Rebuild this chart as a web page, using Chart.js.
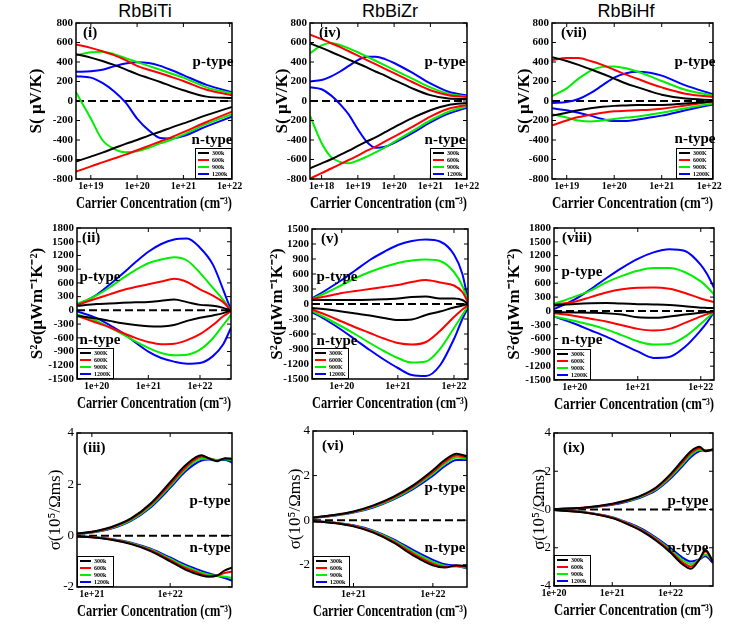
<!DOCTYPE html>
<html>
<head>
<meta charset="utf-8">
<script src="https://cdn.jsdelivr.net/npm/chart.js@4.4.0/dist/chart.umd.min.js"></script>
<style>
  body { margin: 0; background: #fff; width: 756px; height: 629px; position: relative; overflow: hidden; }
  .panel { position: absolute; }
  .ttl { position: absolute; top: 1px; font-family: Arial, "Liberation Sans", sans-serif; font-size: 18px; transform: translateX(-50%); }
</style>
</head>
<body>
<div class="ttl" style="left:145px">RbBiTi</div>
<div class="ttl" style="left:390px">RbBiZr</div>
<div class="ttl" style="left:626px">RbBiHf</div>
<script>
// legend labels and colours
const tempsK = ['300K', '600K', '900K', '1200K'];
const tempsk = ['300k', '600k', '900k', '1200k'];
const lineColors = ['#000000', '#ff0000', '#00ee00', '#0000ff'];

// y tick labels
const sTicks = [-800, -600, -400, -200, 0, 200, 400, 600, 800];
const pfTicks18 = [-1500, -1200, -900, -600, -300, 0, 300, 600, 900, 1200, 1500, 1800];
const pfTicks15 = [-1500, -1200, -900, -600, -300, 0, 300, 600, 900, 1200, 1500];
const cTicks3 = [-2, 0, 2, 4];
const cTicks4 = [-4, -2, 0, 2, 4];

// x tick labels (decade exponents)
const dec19to22 = [19, 20, 21, 22];
const dec18to22 = [18, 19, 20, 21, 22];
const dec20to22 = [20, 21, 22];
const dec21to22 = [21, 22];

// ---- (i) RbBiTi Seebeck, x = log10(carrier conc.)
const nTiS = [18.68, 19, 19.25, 19.5, 19.75, 20, 20.25, 20.5, 20.75, 21, 21.5, 22.05];
const TiS_p = [
  [480, 445, 410, 370, 325, 275, 235, 195, 150, 110, 45, 30],
  [580, 545, 510, 470, 420, 360, 320, 285, 245, 205, 115, 60],
  [470, 500, 505, 480, 440, 400, 360, 320, 280, 240, 140, 80],
  [300, 305, 320, 355, 385, 398, 390, 360, 315, 265, 165, 90]
];
const TiS_n = [
  [-620, -570, -530, -485, -440, -400, -355, -315, -270, -230, -145, -60],
  [-725, -670, -630, -590, -550, -505, -460, -415, -370, -320, -215, -110],
  [90, -180, -400, -490, -525, -515, -480, -435, -395, -345, -235, -135],
  [255, 240, 185, 100, -15, -180, -300, -380, -385, -360, -260, -160]
];

// ---- (iv) RbBiZr Seebeck
const nZrS = [17.68, 18, 18.25, 18.5, 18.75, 19, 19.25, 19.5, 19.75, 20, 20.5, 21, 21.5, 22.01];
const ZrS_p = [
  [590, 545, 505, 465, 425, 385, 345, 300, 260, 215, 130, 60, 25, 20],
  [680, 635, 595, 555, 510, 465, 420, 375, 330, 285, 195, 110, 60, 40],
  [490, 570, 595, 575, 540, 500, 455, 410, 365, 320, 230, 140, 75, 45],
  [200, 215, 250, 300, 360, 420, 455, 455, 430, 390, 290, 180, 95, 55]
];
const ZrS_n = [
  [-690, -640, -600, -555, -510, -460, -415, -370, -320, -270, -175, -95, -40, -20],
  [-795, -740, -695, -650, -605, -560, -510, -465, -415, -365, -265, -160, -80, -40],
  [-150, -430, -570, -625, -638, -610, -570, -525, -475, -420, -310, -200, -110, -55],
  [140, 120, 60, -30, -140, -290, -420, -480, -470, -430, -330, -220, -130, -70]
];

// ---- (vii) RbBiHf Seebeck
const nHfS = [18.69, 19, 19.25, 19.5, 19.75, 20, 20.25, 20.5, 20.75, 21, 21.5, 22.08];
const HfS_p = [
  [450, 410, 370, 325, 280, 230, 180, 140, 100, 65, 25, 10],
  [420, 442, 440, 410, 370, 320, 270, 225, 180, 140, 75, 40],
  [50, 130, 230, 310, 350, 355, 335, 300, 255, 205, 115, 55],
  [-20, -10, 20, 80, 160, 240, 285, 300, 290, 260, 160, 70]
];
const HfS_n = [
  [-150, -120, -95, -75, -60, -50, -45, -40, -40, -40, -25, -5],
  [-250, -200, -165, -140, -120, -105, -100, -95, -90, -80, -45, -5],
  [-135, -170, -200, -210, -200, -185, -170, -160, -140, -120, -75, -25],
  [-75, -95, -120, -150, -185, -205, -205, -190, -170, -150, -95, -35]
];

// ---- (ii) RbBiTi power factor
const nTiPF = [19.62, 20, 20.25, 20.5, 20.75, 21, 21.25, 21.5, 21.75, 22, 22.25, 22.45, 22.6];
const TiPF_p = [
  [100, 140, 150, 165, 175, 185, 210, 235, 180, 120, 100, 55, 0],
  [120, 260, 350, 440, 510, 570, 630, 690, 620, 460, 320, 180, 0],
  [140, 330, 500, 700, 880, 1030, 1110, 1160, 1090, 820, 490, 230, 0],
  [110, 340, 560, 800, 1050, 1280, 1450, 1550, 1570, 1370, 1000, 450, 0]
];
const TiPF_n = [
  [-120, -180, -230, -280, -320, -345, -350, -320, -230, -160, -110, -60, 0],
  [-120, -270, -370, -490, -600, -690, -740, -730, -650, -520, -320, -130, -20],
  [-90, -230, -370, -520, -680, -820, -930, -980, -970, -860, -610, -320, -100],
  [-20, -170, -320, -490, -700, -900, -1040, -1120, -1165, -1150, -1000, -740, -380]
];

// ---- (v) RbBiZr power factor
const nZrPF = [19.47, 19.75, 20, 20.25, 20.5, 20.75, 21, 21.25, 21.5, 21.75, 22, 22.15, 22.25];
const ZrPF_p = [
  [80, 80, 80, 80, 85, 95, 110, 140, 150, 110, 110, 80, 0],
  [100, 160, 220, 260, 300, 340, 380, 440, 480, 430, 370, 240, 30],
  [100, 240, 380, 520, 640, 740, 820, 870, 890, 860, 640, 360, 60],
  [110, 300, 480, 680, 880, 1040, 1180, 1260, 1290, 1250, 990, 600, 80]
];
const ZrPF_n = [
  [-80, -110, -150, -190, -230, -280, -320, -310, -220, -150, -70, -30, 0],
  [-110, -230, -350, -470, -580, -690, -780, -810, -760, -540, -260, -110, -20],
  [-140, -300, -450, -610, -780, -940, -1080, -1170, -1150, -900, -480, -220, -40],
  [-160, -340, -520, -720, -920, -1110, -1280, -1420, -1440, -1230, -700, -300, -80]
];

// ---- (viii) RbBiHf power factor
const nHfPF = [19.67, 20, 20.25, 20.5, 20.75, 21, 21.25, 21.5, 21.75, 22, 22.1, 22.21];
const HfPF_p = [
  [120, 150, 165, 170, 160, 145, 140, 130, 100, 70, 65, 60],
  [140, 200, 300, 400, 470, 505, 510, 480, 390, 270, 230, 190],
  [150, 310, 440, 620, 760, 870, 930, 930, 840, 640, 520, 360],
  [40, 250, 470, 710, 935, 1130, 1270, 1340, 1300, 1000, 800, 500]
];
const HfPF_n = [
  [-30, -35, -40, -50, -80, -140, -150, -120, -80, -40, -25, -10],
  [-50, -110, -170, -230, -310, -390, -425, -390, -260, -120, -70, -15],
  [-120, -220, -300, -400, -530, -660, -730, -720, -560, -280, -160, -20],
  [-120, -280, -420, -560, -720, -880, -1020, -1000, -780, -420, -250, -20]
];

// ---- (iii) RbBiTi conductivity (10^5 /Ohm m s)
const nTiC = [20.81, 21, 21.25, 21.5, 21.75, 22, 22.2, 22.4, 22.5, 22.6, 22.7, 22.79];
const TiC_p = [
  [0.08, 0.15, 0.34, 0.67, 1.25, 2.08, 2.75, 3.13, 3.0, 2.9, 3.02, 3.0],
  [0.07, 0.14, 0.32, 0.64, 1.2, 2.0, 2.67, 3.07, 3.02, 2.92, 3.0, 2.98],
  [0.06, 0.13, 0.3, 0.61, 1.15, 1.93, 2.6, 3.0, 3.0, 2.95, 2.98, 2.95],
  [0.05, 0.12, 0.28, 0.58, 1.1, 1.86, 2.52, 2.93, 2.97, 2.95, 2.95, 2.85]
];
const TiC_n = [
  [-0.03, -0.06, -0.16, -0.33, -0.6, -1.0, -1.33, -1.55, -1.6, -1.55, -1.35, -1.25],
  [-0.03, -0.06, -0.15, -0.31, -0.57, -0.95, -1.27, -1.5, -1.57, -1.55, -1.45, -1.4],
  [-0.03, -0.05, -0.14, -0.29, -0.54, -0.9, -1.2, -1.44, -1.52, -1.57, -1.6, -1.65],
  [-0.02, -0.05, -0.13, -0.27, -0.51, -0.85, -1.14, -1.37, -1.47, -1.56, -1.65, -1.75]
];

// ---- (vi) RbBiZr conductivity
const nZrC = [20.49, 20.75, 21, 21.25, 21.5, 21.75, 22, 22.15, 22.3, 22.43];
const ZrC_p = [
  [0.12, 0.23, 0.39, 0.66, 1.04, 1.56, 2.24, 2.7, 2.98, 2.86],
  [0.12, 0.22, 0.37, 0.63, 1.0, 1.5, 2.16, 2.61, 2.9, 2.8],
  [0.11, 0.21, 0.36, 0.6, 0.96, 1.45, 2.08, 2.52, 2.81, 2.75],
  [0.1, 0.2, 0.34, 0.57, 0.92, 1.39, 1.99, 2.42, 2.7, 2.7]
];
const ZrC_n = [
  [-0.05, -0.13, -0.28, -0.56, -1.0, -1.58, -2.03, -2.13, -2.02, -2.07],
  [-0.05, -0.12, -0.26, -0.53, -0.95, -1.5, -1.95, -2.1, -2.06, -2.1],
  [-0.05, -0.11, -0.25, -0.5, -0.9, -1.42, -1.87, -2.05, -2.08, -2.13],
  [-0.04, -0.11, -0.23, -0.47, -0.85, -1.34, -1.78, -1.98, -2.06, -2.17]
];

// ---- (ix) RbBiHf conductivity
const nHfC = [20, 20.5, 21, 21.25, 21.5, 21.75, 22, 22.2, 22.35, 22.5, 22.6, 22.73];
const HfC_p = [
  [0.03, 0.09, 0.3, 0.48, 0.74, 1.15, 1.85, 2.55, 3.05, 3.28, 3.05, 3.15],
  [0.03, 0.09, 0.28, 0.46, 0.71, 1.1, 1.78, 2.45, 2.95, 3.2, 3.08, 3.12],
  [0.03, 0.08, 0.27, 0.44, 0.68, 1.05, 1.7, 2.35, 2.85, 3.12, 3.1, 3.1],
  [0.02, 0.08, 0.25, 0.41, 0.64, 1.0, 1.62, 2.25, 2.75, 3.05, 3.1, 3.1]
];
const HfC_n = [
  [-0.03, -0.15, -0.45, -0.75, -1.12, -1.62, -2.25, -2.85, -3.1, -2.6, -2.1, -2.75],
  [-0.03, -0.14, -0.43, -0.72, -1.08, -1.56, -2.18, -2.75, -2.98, -2.6, -2.2, -2.72],
  [-0.03, -0.14, -0.42, -0.7, -1.05, -1.52, -2.1, -2.62, -2.85, -2.6, -2.35, -2.7],
  [-0.02, -0.13, -0.4, -0.67, -1.0, -1.47, -2.02, -2.5, -2.72, -2.6, -2.45, -2.8]
];

const serif = '"Liberation Serif", "Times New Roman", serif';

// y axis title per row
const rowTitles = [
  { text: 'S( \u03bcV/K)', weight: 'bold', size: 17 },
  { text: 'S\u00b2\u03c3(\u03bcWm\u207b\u00b9K\u207b\u00b2)', weight: 'bold', size: 17 },
  { text: '\u03c3(10\u2075/\u03a9ms)', weight: 'normal', size: 17 }
];

const panels = [
  { box: [76, 23, 232, 179], row: 0, xs: nTiS, p: TiS_p, n: TiS_n, xr: [18.68, 22.05], xt: dec19to22, yr: [-800, 800], yt: sTicks,
    yOff: 39, roman: '(i)', rAt: [7, 10], pAt: [137, 39], nAt: [136, 117], leg: 'right', labels: tempsk },
  { box: [310, 23, 467, 179], row: 0, xs: nZrS, p: ZrS_p, n: ZrS_n, xr: [17.68, 22.01], xt: dec18to22, yr: [-800, 800], yt: sTicks,
    yOff: 27, roman: '(iv)', rAt: [9, 10], pAt: [135, 39], nAt: [135, 117], leg: 'right', labels: tempsk },
  { box: [552, 23, 713, 179], row: 0, xs: nHfS, p: HfS_p, n: HfS_n, xr: [18.69, 22.08], xt: dec19to22, yr: [-800, 800], yt: sTicks,
    yOff: 27, roman: '(vii)', rAt: [9, 10], pAt: [143, 39], nAt: [143, 116], leg: 'right', labels: tempsK },
  { box: [77, 228, 231, 379], row: 1, xs: nTiPF, p: TiPF_p, n: TiPF_n, xr: [19.62, 22.6], xt: dec20to22, yr: [-1500, 1800], yt: pfTicks18,
    yOff: 39, roman: '(ii)', rAt: [5, 10], pAt: [23, 49], nAt: [23, 112], leg: 'left', labels: tempsK },
  { box: [312, 229, 468, 379], row: 1, xs: nZrPF, p: ZrPF_p, n: ZrPF_n, xr: [19.47, 22.25], xt: dec20to22, yr: [-1500, 1500], yt: pfTicks15,
    yOff: 34, roman: '(v)', rAt: [9, 10], pAt: [25, 48], nAt: [25, 112], leg: 'left', labels: tempsK },
  { box: [554, 228, 714, 380], row: 1, xs: nHfPF, p: HfPF_p, n: HfPF_n, xr: [19.67, 22.21], xt: dec20to22, yr: [-1500, 1800], yt: pfTicks18,
    yOff: 39, roman: '(viii)', rAt: [8, 10], pAt: [28, 44], nAt: [28, 112], leg: 'left', labels: tempsK },
  { box: [77, 433, 232, 587], row: 2, xs: nTiC, p: TiC_p, n: TiC_n, xr: [20.81, 22.79], xt: dec21to22, yr: [-2, 4], yt: cTicks3,
    yOff: 21, roman: '(iii)', rAt: [6, 15], pAt: [133, 68], nAt: [133, 115], leg: 'left', labels: tempsk },
  { box: [313, 431, 467, 587], row: 2, xs: nZrC, p: ZrC_p, n: ZrC_n, xr: [20.49, 22.43], xt: dec21to22, yr: [-3, 4], yt: cTicks3,
    yOff: 17, roman: '(vi)', rAt: [9, 15], pAt: [132, 57], nAt: [132, 117], leg: 'left', labels: tempsk },
  { box: [554, 433, 713, 586], row: 2, xs: nHfC, p: HfC_p, n: HfC_n, xr: [20.0, 22.73], xt: dec20to22, yr: [-4, 4], yt: cTicks4,
    yOff: 14, roman: '(ix)', rAt: [9, 15], pAt: [134, 68], nAt: [134, 115], leg: 'left', labels: tempsk }
];

const AXW = 76, PADT = 22, PADR = 30, AXH = 46;

const decorPlugin = {
  id: 'decor',
  beforeDatasetsDraw(chart, args, opts) {
    const { ctx, chartArea: a, scales: { y } } = chart;
    const y0 = y.getPixelForValue(0);
    ctx.save();
    ctx.strokeStyle = '#000';
    ctx.lineWidth = 2;
    ctx.setLineDash([8, 4]);
    ctx.beginPath();
    ctx.moveTo(a.left, y0);
    ctx.lineTo(a.right, y0);
    ctx.stroke();
    ctx.restore();
  },
  afterDatasetsDraw(chart, args, opts) {
    const { ctx, chartArea: a, scales: { x, y } } = chart;
    ctx.save();
    // frame
    ctx.strokeStyle = '#000';
    ctx.lineWidth = 1.5;
    ctx.strokeRect(a.left, a.top, a.width, a.height);
    // inward ticks
    ctx.lineWidth = 1;
    ctx.beginPath();
    x.ticks.forEach(t => {
      const px = x.getPixelForValue(t.value);
      ctx.moveTo(px, a.bottom); ctx.lineTo(px, a.bottom - 4);
      ctx.moveTo(px, a.top); ctx.lineTo(px, a.top + 4);
    });
    y.ticks.forEach(t => {
      const py = y.getPixelForValue(t.value);
      ctx.moveTo(a.left, py); ctx.lineTo(a.left + 4, py);
      ctx.moveTo(a.right, py); ctx.lineTo(a.right - 4, py);
    });
    ctx.stroke();

    // panel number and carrier type labels
    ctx.fillStyle = '#000';
    ctx.textBaseline = 'middle';
    ctx.font = 'bold 15px ' + serif;
    ctx.textAlign = 'left';
    ctx.fillText(opts.roman, a.left + opts.rAt[0], a.top + opts.rAt[1]);
    ctx.textAlign = 'center';
    ctx.font = 'bold 15px ' + serif;
    ctx.fillText('p-type', a.left + opts.pAt[0], a.top + opts.pAt[1]);
    ctx.fillText('n-type', a.left + opts.nAt[0], a.top + opts.nAt[1]);

    // legend box
    const w = 37, h = 31;
    const lx = opts.leg === 'right' ? a.right - w : a.left;
    const ly = a.bottom - h;
    ctx.fillStyle = '#fff';
    ctx.fillRect(lx, ly, w, h);
    ctx.strokeStyle = '#000';
    ctx.lineWidth = 1;
    ctx.strokeRect(lx + 0.5, ly + 0.5, w - 1, h - 1);
    ctx.font = 'bold 6px ' + serif;
    ctx.textAlign = 'left';
    chart.data.datasets.slice(0, 4).forEach((ds, i) => {
      const yy = ly + 5 + i * 7;
      ctx.strokeStyle = ds.borderColor;
      ctx.lineWidth = 2;
      ctx.beginPath();
      ctx.moveTo(lx + 3, yy);
      ctx.lineTo(lx + 14, yy);
      ctx.stroke();
      ctx.fillStyle = '#000';
      ctx.fillText(opts.labels[i], lx + 17, yy);
    });
    ctx.restore();
  }
};

panels.forEach(pn => {
  const [L, T, R, B] = pn.box;
  const div = document.createElement('div');
  div.className = 'panel';
  const cw = (R - L) + AXW + PADR, chh = (B - T) + PADT + AXH;
  div.style.left = (L - AXW) + 'px';
  div.style.top = (T - PADT) + 'px';
  const cv = document.createElement('canvas');
  cv.width = cw; cv.height = chh;
  cv.style.width = cw + 'px'; cv.style.height = chh + 'px';
  div.appendChild(cv);
  document.body.appendChild(div);

  // first four datasets are p-type (used by the legend), then n-type
  const datasets = [];
  [pn.p, pn.n].forEach(group => {
    group.forEach((vals, i) => {
      datasets.push({
        data: pn.xs.map((e, k) => ({ x: Math.pow(10, e), y: vals[k] })),
        borderColor: lineColors[i],
        borderWidth: 2,
        pointRadius: 0,
        fill: false,
        cubicInterpolationMode: 'monotone'
      });
    });
  });

  const rt = rowTitles[pn.row];
  const tickWeight = pn.row === 2 ? 'normal' : 'bold';
  const tickSize = pn.row === 2 ? 13 : 11;

  new Chart(cv.getContext('2d'), {
    type: 'line',
    data: { datasets: datasets },
    plugins: [decorPlugin],
    options: {
      responsive: false,
      animation: false,
      devicePixelRatio: 1,
      layout: { padding: { top: PADT, right: PADR, left: 0, bottom: 0 } },
      plugins: {
        legend: { display: false },
        tooltip: { enabled: false },
        decor: { roman: pn.roman, rAt: pn.rAt, pAt: pn.pAt, nAt: pn.nAt, leg: pn.leg, labels: pn.labels }
      },
      scales: {
        x: {
          type: 'logarithmic',
          min: Math.pow(10, pn.xr[0]),
          max: Math.pow(10, pn.xr[1]),
          afterBuildTicks: s => { s.ticks = pn.xt.map(e => ({ value: Math.pow(10, e) })); },
          afterFit: s => { s.height = AXH; },
          grid: { display: false, drawTicks: false },
          border: { display: false },
          ticks: {
            autoSkip: false, maxRotation: 0, padding: 1, color: '#000',
            font: { family: serif, size: 10, weight: 'bold' },
            callback: v => '1e+' + Math.round(Math.log10(v))
          },
          title: {
            display: true, text: 'Carrier Concentration (cm\u207b\u00b3)', color: '#000',
            font: { family: serif, size: 16, weight: 'bold', lineHeight: 1 },
            padding: { top: 0, bottom: 13 }
          }
        },
        y: {
          min: pn.yr[0],
          max: pn.yr[1],
          afterBuildTicks: s => { s.ticks = pn.yt.map(v => ({ value: v })); },
          afterFit: s => { s.width = AXW; },
          grid: { display: false, drawTicks: false },
          border: { display: false },
          ticks: {
            autoSkip: false, padding: 3, color: '#000',
            font: { family: serif, size: tickSize, weight: tickWeight },
            callback: v => String(v)
          },
          title: {
            display: true, text: rt.text, color: '#000',
            font: { family: serif, size: rt.size, weight: rt.weight, lineHeight: 1 },
            padding: { top: AXW - pn.yOff - rt.size / 2, bottom: 0 }
          }
        }
      }
    }
  });
});
</script>
</body>
</html>
